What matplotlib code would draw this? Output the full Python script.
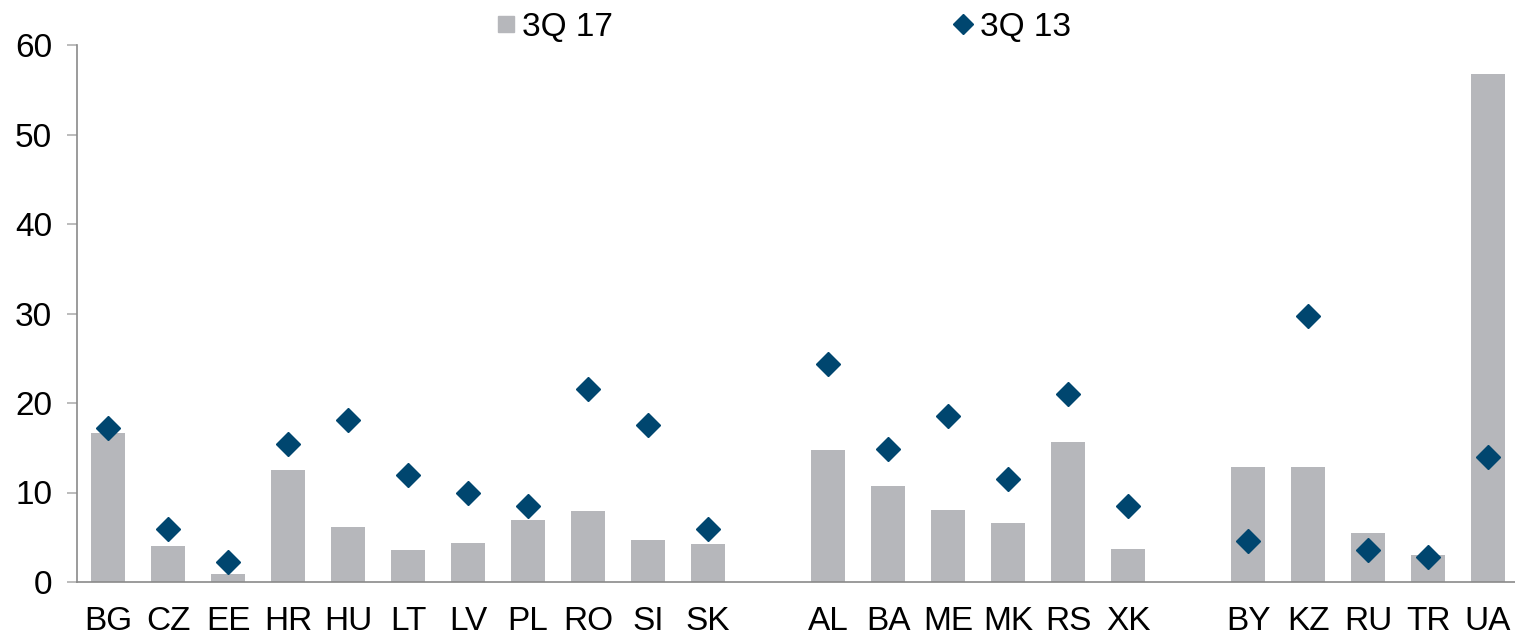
import matplotlib.pyplot as plt
from matplotlib.lines import Line2D

plt.rcParams['font.family'] = ['Liberation Sans', 'DejaVu Sans']

# categories, '' marks the empty gap between country groups
countries = ['BG', 'CZ', 'EE', 'HR', 'HU', 'LT', 'LV', 'PL', 'RO', 'SI', 'SK', '',
             'AL', 'BA', 'ME', 'MK', 'RS', 'XK', '',
             'BY', 'KZ', 'RU', 'TR', 'UA']
q3_17 = [16.7, 4.0, 0.9, 12.5, 6.2, 3.6, 4.4, 6.9, 7.9, 4.7, 4.2, None,
         14.8, 10.7, 8.1, 6.6, 15.6, 3.7, None,
         12.9, 12.8, 5.5, 3.0, 56.8]
q3_13 = [17.2, 5.9, 2.2, 15.4, 18.1, 11.9, 10.0, 8.5, 21.6, 17.5, 5.9, None,
         24.4, 14.9, 18.5, 11.5, 21.0, 8.5, None,
         4.6, 29.7, 3.6, 2.8, 14.0]

bar_col = '#b6b7bb'
dia_col = '#00466f'

fig = plt.figure(figsize=(15.15, 6.34), dpi=100)
ax = fig.add_axes([77 / 1515, 52 / 634, 1 - 77 / 1515, 537 / 634])

xs = [i for i, c in enumerate(countries) if c]
ax.bar(xs, [q3_17[i] for i in xs], width=0.58, color=bar_col, zorder=2)
ax.plot(xs, [q3_13[i] for i in xs], 'D', color=dia_col, markersize=12.5,
        linestyle='none', zorder=3)

ax.set_xlim(-0.517, 23.45)
ax.set_ylim(0, 60)
ax.set_yticks(range(0, 61, 10))
ax.set_xticks(range(len(countries)))
ax.set_xticklabels(countries)

for s in ['top', 'right']:
    ax.spines[s].set_visible(False)
for s in ['left', 'bottom']:
    ax.spines[s].set_color('#8a8a8a')
    ax.spines[s].set_linewidth(1.2)

ax.tick_params(axis='y', length=7, width=1.2, color='#b0b0b0', pad=11, labelsize=24)
ax.tick_params(axis='x', length=0, pad=17, labelsize=24)

handles = [Line2D([], [], marker='s', color=bar_col, linestyle='none', markersize=12),
           Line2D([], [], marker='D', color=dia_col, linestyle='none', markersize=10)]
fig.legend(handles, ['3Q 17', '3Q 13'], loc='center', bbox_to_anchor=(0.517, 0.957),
           ncol=2, frameon=False, fontsize=24, handlelength=0.6, handletextpad=0.2,
           columnspacing=10.2)

fig.savefig('out.png', dpi=100)
